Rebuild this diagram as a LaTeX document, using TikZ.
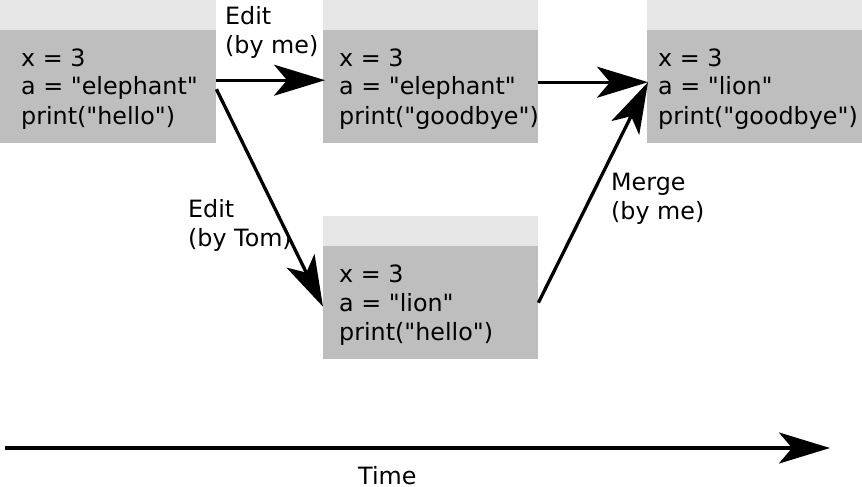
\documentclass[tikz,border=0pt]{standalone}
\usepackage{fontspec}
\setmainfont{DejaVu Sans}[Ligatures=TeXOff]
\usetikzlibrary{arrows.meta}
\definecolor{bandgray}{RGB}{230,230,230}
\definecolor{bodygray}{RGB}{190,190,190}
\begin{document}
\begin{tikzpicture}[x=1pt,y=-1pt,
  body/.style={fill=bodygray, draw=none, minimum width=215pt, minimum height=113pt, inner sep=0pt, anchor=north west},
  code/.style={anchor=base west, align=left, inner sep=0pt, font=\fontsize{23.8}{29}\selectfont},
  lbl/.style={anchor=base west, align=left, inner sep=0pt, font=\fontsize{23.8}{29}\selectfont},
  conn/.style={line width=3.3pt, -{Stealth[length=51pt, width=31pt, inset=13pt]}}
]
\useasboundingbox (0,0) rectangle (862,487);
% boxes
\fill[bandgray] (0,0) rectangle (216,30);
\node[body, minimum width=216pt] (b1) at (0,30) {};
\fill[bandgray] (323,0) rectangle (538,30);
\node[body] (b2) at (323,30) {};
\fill[bandgray] (647,0) rectangle (862,30);
\node[body] (b3) at (647,30) {};
\fill[bandgray] (323,216) rectangle (538,246);
\node[body] (b4) at (323,246) {};
% code texts (anchor = baseline of last line)
\node[code] (t1) at (21,124) {x = 3\\a = "elephant"\\print("hello")};
\node[code] (t2) at (339,124) {x = 3\\a = "elephant"\\print("goodbye")};
\node[code] (t3) at (658,124) {x = 3\\a = "lion"\\print("goodbye")};
\node[code] (t4) at (339,340) {x = 3\\a = "lion"\\print("hello")};
% labels
\node[lbl] (l1) at (225,54) {Edit\\(by me)};
\node[lbl] (l2) at (188,246) {Edit\\(by Tom)};
\node[lbl] (l3) at (611,219) {Merge\\(by me)};
% connectors
\draw[conn] ([yshift=6.5pt]b1.east) -- ([yshift=6.5pt,xshift=2pt]b2.west);
\draw[conn] ([yshift=4.5pt]b2.east) -- ([yshift=4.5pt,xshift=1pt]b3.west);
\draw[conn] ([yshift=-2.5pt]b1.east) -- ([yshift=-4pt]b4.west);
\draw[conn] (b4.east) -- ([yshift=4.5pt,xshift=1pt]b3.west);
% time axis
\coordinate (ts) at (5,448);
\coordinate (te) at (830,448);
\draw[conn] (ts) -- (te);
\node[lbl] (time) at (358,484) {Time};
\end{tikzpicture}
\end{document}
